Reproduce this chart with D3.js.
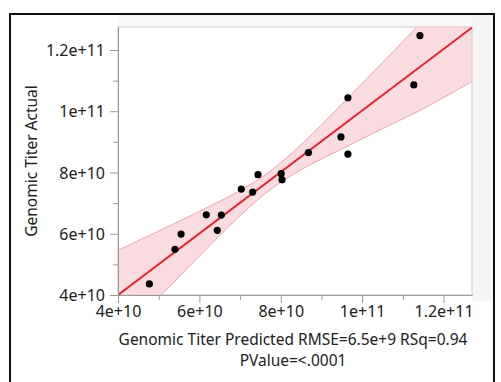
<!DOCTYPE html>
<html lang="en">
<head>
    <meta charset="UTF-8">
    <title>Genomic Titer Actual by Predicted</title>
    <script src="https://d3js.org/d3.v7.min.js"></script>
    <style>
        body {
            margin: 0;
            background-color: #fff;
        }
        svg {
            display: block;
        }
        text {
            font-family: 'Noto Sans', 'Open Sans', sans-serif;
            fill: #222;
        }
    </style>
</head>
<body>
    <svg width="501" height="382"></svg>
    <script>
        // points (predicted, actual)
        const predicted = [4.77e10, 5.40e10, 5.55e10, 6.17e10, 6.44e10, 6.54e10, 7.03e10, 7.31e10, 7.44e10,
                           8.01e10, 8.03e10, 8.68e10, 9.65e10, 9.48e10, 9.65e10, 1.127e11, 1.142e11];
        const actual    = [4.36e10, 5.49e10, 5.99e10, 6.62e10, 6.11e10, 6.61e10, 7.46e10, 7.36e10, 7.93e10,
                           7.96e10, 7.76e10, 8.65e10, 1.044e11, 9.16e10, 8.60e10, 1.086e11, 1.247e11];

        // fit line end points
        const fitX = [4e10, 1.27e11];
        const fitY = [4e10, 1.273e11];

        // confidence band edges
        const bandX     = [4e10, 5e10, 6e10, 7e10, 7.75e10, 8.5e10, 9.5e10, 1.05e11, 1.15e11, 1.27e11];
        const bandUpper = [5.46e10, 6.09e10, 6.73e10, 7.41e10, 8.05e10, 8.91e10, 1.023e11, 1.159e11, 1.296e11, 1.461e11];
        const bandLower = [2.54e10, 3.91e10, 5.27e10, 6.59e10, 7.45e10, 8.09e10, 8.77e10, 9.43e10, 1.008e11, 1.097e11];

        const majorTicks = [4e10, 6e10, 8e10, 1e11, 1.2e11];
        const tickLabels = ["4e+10", "6e+10", "8e+10", "1e+11", "1.2e+11"];
        const minorTicks = [5e10, 7e10, 9e10, 1.1e11];

        const xTitle = "Genomic Titer Predicted RMSE=6.5e+9 RSq=0.94";
        const xTitle2 = "PValue=<.0001";
        const yTitle = "Genomic Titer Actual";

        const svg = d3.select("svg");
        const pl = 118, pr = 472, pt = 27, pb = 295;

        const x = d3.scaleLinear().domain([4e10, 1.27e11]).range([pl, pr]);
        const y = d3.scaleLinear().domain([4e10, 1.275e11]).range([pb, pt]);

        // outer frame
        svg.append("rect")
            .attr("x", 10).attr("y", 14)
            .attr("width", 484).attr("height", 380)
            .attr("fill", "#fff")
            .attr("stroke", "#111")
            .attr("stroke-width", 2);

        // light gray margin top/right of the plot
        svg.append("rect")
            .attr("x", pr).attr("y", 15)
            .attr("width", 21).attr("height", pb - 15 + 6)
            .attr("fill", "#f5f5f5");
        svg.append("rect")
            .attr("x", pl).attr("y", 15)
            .attr("width", pr - pl).attr("height", pt - 15)
            .attr("fill", "#f8f8f8");

        // plot background
        svg.append("rect")
            .attr("x", pl).attr("y", pt)
            .attr("width", pr - pl).attr("height", pb - pt)
            .attr("fill", "#fff")
            .attr("stroke", "#c8c8c8");

        svg.append("clipPath").attr("id", "clip")
            .append("rect")
            .attr("x", pl).attr("y", pt)
            .attr("width", pr - pl).attr("height", pb - pt);

        const plot = svg.append("g").attr("clip-path", "url(#clip)");

        const band = bandX.map((v, i) => ({x: v, hi: bandUpper[i], lo: bandLower[i]}));

        plot.append("path")
            .datum(band)
            .attr("fill", "#f7c5cb")
            .attr("fill-opacity", 0.6)
            .attr("d", d3.area()
                .curve(d3.curveCatmullRom)
                .x(d => x(d.x))
                .y0(d => y(d.lo))
                .y1(d => y(d.hi)));

        ["hi", "lo"].forEach(k => {
            plot.append("path")
                .datum(band)
                .attr("fill", "none")
                .attr("stroke", "#f0a3ab")
                .attr("stroke-width", 1)
                .attr("d", d3.line()
                    .curve(d3.curveCatmullRom)
                    .x(d => x(d.x))
                    .y(d => y(d[k])));
        });

        plot.append("line")
            .attr("x1", x(fitX[0])).attr("y1", y(fitY[0]))
            .attr("x2", x(fitX[1])).attr("y2", y(fitY[1]))
            .attr("stroke", "#e3232f")
            .attr("stroke-width", 2);

        svg.append("g")
            .selectAll("circle")
            .data(predicted.map((p, i) => [p, actual[i]]))
            .join("circle")
            .attr("cx", d => x(d[0]))
            .attr("cy", d => y(d[1]))
            .attr("r", 3.6)
            .attr("fill", "#000");

        // axes
        const fmt = d => tickLabels[majorTicks.indexOf(d)];

        const xAxis = svg.append("g")
            .attr("transform", `translate(0,${pb})`)
            .call(d3.axisBottom(x).tickValues(majorTicks).tickFormat(fmt).tickSize(8).tickSizeOuter(0));
        svg.append("g")
            .attr("transform", `translate(0,${pb})`)
            .call(d3.axisBottom(x).tickValues(minorTicks).tickFormat("").tickSize(5).tickSizeOuter(0));

        const yAxis = svg.append("g")
            .attr("transform", `translate(${pl},0)`)
            .call(d3.axisLeft(y).tickValues(majorTicks).tickFormat(fmt).tickSize(8).tickSizeOuter(0));
        svg.append("g")
            .attr("transform", `translate(${pl},0)`)
            .call(d3.axisLeft(y).tickValues(minorTicks).tickFormat("").tickSize(5).tickSizeOuter(0));

        svg.selectAll(".domain, .tick line").attr("stroke", "#9a9a9a");
        svg.selectAll(".tick text")
            .style("font-size", "16px")
            .attr("fill", "#222");
        xAxis.selectAll(".tick text").attr("y", 11);
        yAxis.selectAll(".tick text").attr("x", -13).attr("dy", "0.35em");

        svg.append("text")
            .attr("x", (pl + pr) / 2 - 2)
            .attr("y", 345)
            .attr("text-anchor", "middle")
            .style("font-size", "15.5px")
            .text(xTitle);
        svg.append("text")
            .attr("x", (pl + pr) / 2 - 2)
            .attr("y", 366)
            .attr("text-anchor", "middle")
            .style("font-size", "15.5px")
            .text(xTitle2);

        svg.append("text")
            .attr("transform", `translate(37,${(pt + pb) / 2}) rotate(-90)`)
            .attr("text-anchor", "middle")
            .style("font-size", "15.5px")
            .text(yTitle);
    </script>
</body>
</html>
